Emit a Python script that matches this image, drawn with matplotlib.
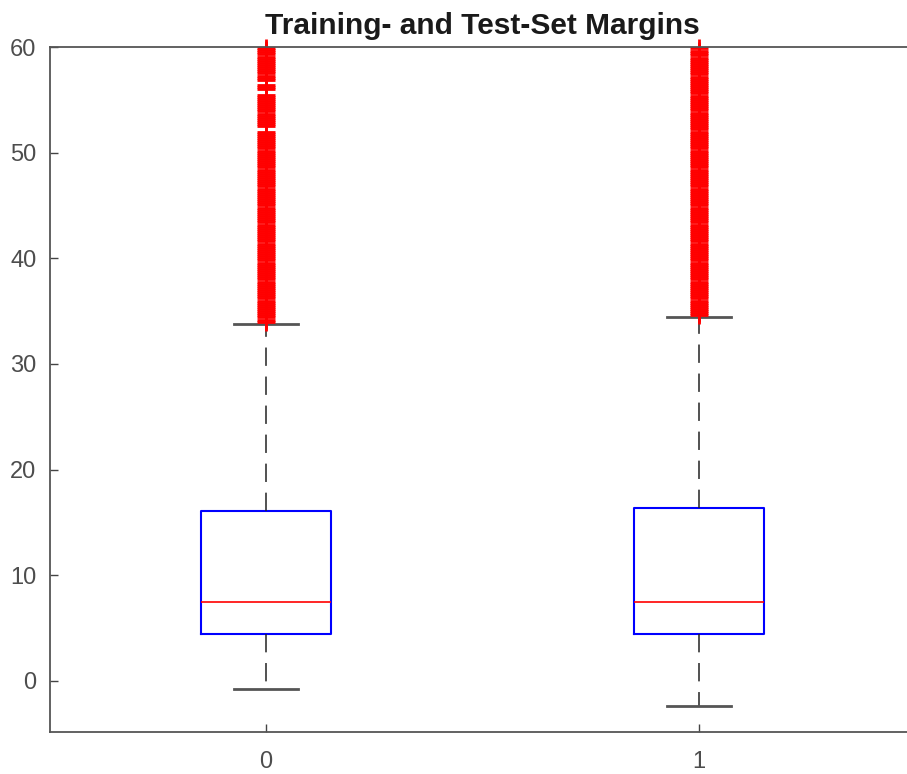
import matplotlib
matplotlib.use("Agg")
import matplotlib.pyplot as plt

plt.rcParams['font.family'] = ['Liberation Sans', 'DejaVu Sans']

# Group labels and box statistics
labels = ["0", "1"]
q1 = [4.45, 4.45]
medians = [7.45, 7.45]
q3 = [16.1, 16.4]
whis_lo = [-0.75, -2.35]
whis_hi = [33.8, 34.45]

# Outliers (dense runs of '+' markers above the upper whisker)
outliers_0 = [
    34.0, 34.2, 34.4, 34.6, 34.8, 35.0, 35.2, 35.4, 35.6, 35.8,
    36.0, 36.2, 36.4, 36.6, 36.8, 37.0, 37.2, 37.4, 37.6, 37.8,
    38.0, 38.2, 38.4, 38.6, 38.8, 39.0, 39.2, 39.4, 39.6, 39.8,
    40.0, 40.2, 40.4, 40.6, 40.8, 41.0, 41.2, 41.4, 41.6, 41.8,
    42.0, 42.2, 42.4, 42.6, 42.8, 43.0, 43.2, 43.4, 43.6, 43.8,
    44.0, 44.2, 44.4, 44.6, 44.8, 45.0, 45.2, 45.4, 45.6, 45.8,
    46.0, 46.2, 46.4, 46.6, 46.8, 47.0, 47.2, 47.4, 47.6, 47.8,
    48.0, 48.2, 48.4, 48.6, 48.8, 49.0, 49.2, 49.4, 49.6, 49.8,
    50.0, 50.2, 50.4, 50.6, 50.8, 51.0, 51.2, 51.4, 51.6, 51.8,
    52.0, 52.5, 52.7, 52.9, 53.1, 53.3, 53.5, 53.7, 53.9,
    54.1, 54.3, 54.5, 54.7, 54.9, 55.1, 55.3, 55.5,
    56.0, 56.2, 56.4, 56.9,
    57.1, 57.3, 57.5, 57.7, 57.9, 58.1, 58.3, 58.5, 58.7, 58.9,
    59.1, 59.3, 59.5, 59.7, 59.9,
]
outliers_1 = [
    34.6, 34.8, 35.0, 35.2, 35.4, 35.6, 35.8,
    36.0, 36.2, 36.4, 36.6, 36.8, 37.0, 37.2, 37.4, 37.6, 37.8,
    38.0, 38.2, 38.4, 38.6, 38.8, 39.0, 39.2, 39.4, 39.6, 39.8,
    40.0, 40.2, 40.4, 40.6, 40.8, 41.0, 41.2, 41.4, 41.6, 41.8,
    42.0, 42.2, 42.4, 42.6, 42.8, 43.0, 43.2, 43.4, 43.6, 43.8,
    44.0, 44.2, 44.4, 44.6, 44.8, 45.0, 45.2, 45.4, 45.6, 45.8,
    46.0, 46.2, 46.4, 46.6, 46.8, 47.0, 47.2, 47.4, 47.6, 47.8,
    48.0, 48.2, 48.4, 48.6, 48.8, 49.0, 49.2, 49.4, 49.6, 49.8,
    50.0, 50.2, 50.4, 50.6, 50.8, 51.0, 51.2, 51.4, 51.6, 51.8,
    52.0, 52.2, 52.4, 52.6, 52.8, 53.0, 53.2, 53.4, 53.6, 53.8,
    54.0, 54.2, 54.4, 54.6, 54.8, 55.0, 55.2, 55.4, 55.6, 55.8,
    56.0, 56.2, 56.4, 56.6, 56.8, 57.0, 57.2, 57.4, 57.6, 57.8,
    58.0, 58.2, 58.4, 58.6, 58.8, 59.0, 59.2, 59.4, 59.6, 59.9,
]
outliers = [outliers_0, outliers_1]

stats = []
for i in range(len(labels)):
    stats.append(dict(label=labels[i], q1=q1[i], med=medians[i], q3=q3[i],
                      whislo=whis_lo[i], whishi=whis_hi[i], fliers=outliers[i]))

fig = plt.figure(figsize=(9.07, 7.74), dpi=100)
# axes runs a little past the right edge of the picture (cropped original)
ax = fig.add_axes([49.5 / 907, 42 / 774, 866 / 907, 685 / 774])

ax.bxp(stats, positions=[0, 1], widths=0.3, capwidths=0.15,
       boxprops=dict(color="#0000ff", lw=1.5),
       medianprops=dict(color="#ff0000", lw=1.2),
       whiskerprops=dict(color="#222222", lw=1.1, dashes=(12, 7)),
       capprops=dict(color="#555555", lw=2.0),
       flierprops=dict(marker="+", markeredgecolor="#ff0000", markersize=13,
                       markeredgewidth=2.0, linestyle="none", clip_on=False))

ax.set_xlim(-0.5, 1.5)
ax.set_ylim(-4.83, 60)
ax.set_yticks([0, 10, 20, 30, 40, 50, 60])
ax.set_xticks([0, 1])
ax.set_xticklabels(labels)

for s in ax.spines.values():
    s.set_color("#555555")
    s.set_linewidth(1.3)
ax.tick_params(direction="in", top=True, right=True, length=5.8, width=1.0,
               color="#444444", labelcolor="#4d4d4d", labelsize=17)
ax.tick_params(axis="y", pad=9.5)
ax.tick_params(axis="x", pad=14)

ax.set_title("Training- and Test-Set Margins", fontsize=21.5, fontweight="bold",
             color="#1a1a1a", pad=9)

fig.savefig("out.png", dpi=100)
